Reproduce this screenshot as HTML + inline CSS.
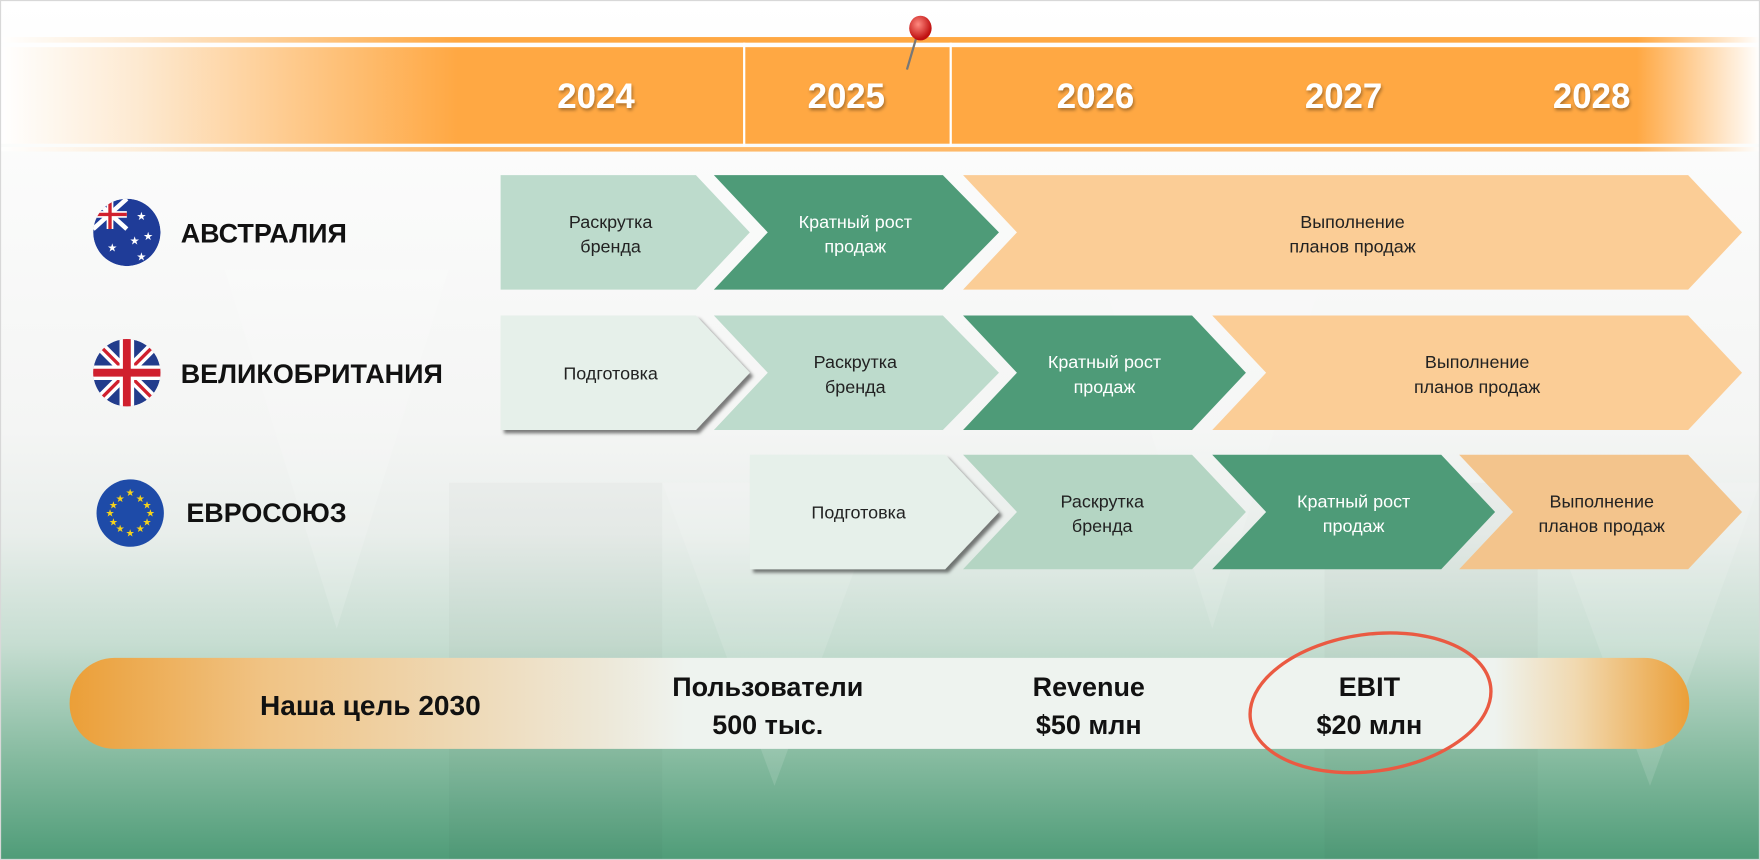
<!DOCTYPE html>
<html><head><meta charset="utf-8"><style>
html,body{margin:0;padding:0;background:#fff;}
svg{display:block;}
text{font-family:"Liberation Sans","DejaVu Sans",sans-serif;}
</style></head><body>
<svg width="1760" height="860" viewBox="0 0 1568 766" preserveAspectRatio="none" xmlns="http://www.w3.org/2000/svg">
<defs>
<linearGradient id="bg" x1="0" y1="0" x2="0" y2="1">
<stop offset="0" stop-color="#ffffff"/>
<stop offset="0.5" stop-color="#f4f5f4"/>
<stop offset="0.62" stop-color="#e9eeeb"/>
<stop offset="0.75" stop-color="#c6ddd1"/>
<stop offset="0.88" stop-color="#86bba0"/>
<stop offset="1" stop-color="#4f9c78"/>
</linearGradient>
<linearGradient id="band" x1="0" y1="0" x2="1" y2="0">
<stop offset="0" stop-color="#ffffff"/>
<stop offset="0.08" stop-color="#fde9d0"/>
<stop offset="0.26" stop-color="#ffa843"/>
<stop offset="0.93" stop-color="#ffa843"/>
<stop offset="1" stop-color="#ffffff"/>
</linearGradient>
<linearGradient id="goal" x1="0" y1="0" x2="1" y2="0">
<stop offset="0" stop-color="#eb9f38"/>
<stop offset="0.12" stop-color="#f0c384"/>
<stop offset="0.33" stop-color="#ede8d8"/>
<stop offset="0.38" stop-color="#eef3ef"/>
<stop offset="0.88" stop-color="#eef3ef"/>
<stop offset="0.93" stop-color="#f1d9b0"/>
<stop offset="1" stop-color="#eb9f38"/>
</linearGradient>
<filter id="ts"><feDropShadow dx="1" dy="2" stdDeviation="1.5" flood-color="#000" flood-opacity="0.35"/></filter>
<filter id="cs"><feDropShadow dx="3" dy="3" stdDeviation="1.5" flood-color="#000" flood-opacity="0.5"/></filter>
<radialGradient id="pin" cx="0.4" cy="0.35" r="0.6"><stop offset="0" stop-color="#ff8a80"/><stop offset="1" stop-color="#c01010"/></radialGradient>
<clipPath id="c1"><circle cx="113" cy="207" r="30"/></clipPath>
<clipPath id="c2"><circle cx="113" cy="332" r="30"/></clipPath>
</defs>
<rect width="1568" height="766" fill="url(#bg)"/>
<!-- facets -->
<polygon points="200,240 400,240 300,560" fill="#ffffff" opacity="0.15"/>
<polygon points="590,430 790,430 690,700" fill="#ffffff" opacity="0.12"/>
<polygon points="980,240 1180,240 1080,560" fill="#ffffff" opacity="0.12"/>
<polygon points="1370,430 1568,430 1470,700" fill="#ffffff" opacity="0.12"/>
<rect x="1180" y="430" width="190" height="336" fill="#000" opacity="0.02"/>
<rect x="400" y="430" width="190" height="336" fill="#000" opacity="0.02"/>
<!-- band -->
<rect x="0" y="33" width="1568" height="5" fill="url(#band)"/>
<rect x="0" y="42" width="1568" height="86" fill="url(#band)"/>
<rect x="0" y="131" width="1568" height="4" fill="url(#band)" opacity="0.8"/>
<rect x="662" y="38" width="2" height="92" fill="#fff"/>
<rect x="846" y="38" width="2" height="92" fill="#fff"/>
<g font-size="31" font-weight="bold" fill="#fff" text-anchor="middle" filter="url(#ts)">
<text x="531" y="96">2024</text><text x="754" y="96">2025</text><text x="976" y="96">2026</text><text x="1197" y="96">2027</text><text x="1418" y="96">2028</text>
</g>
<line x1="818" y1="28" x2="808" y2="62" stroke="#777" stroke-width="2"/>
<ellipse cx="820" cy="25" rx="10" ry="11" fill="url(#pin)"/>
<!-- chevrons -->
<g font-size="16" text-anchor="middle">
<polygon points="446,156 620,156 668,207 620,258 446,258" fill="#bddbcc"/>
<polygon points="636,156 840,156 890,207 840,258 636,258 684,207" fill="#4e9b78"/>
<polygon points="858,156 1504,156 1552,207 1504,258 858,258 906,207" fill="#fbcd96"/>
<text x="544" y="203" fill="#222">Раскрутка</text><text x="544" y="225" fill="#222">бренда</text>
<text x="762" y="203" fill="#fff">Кратный рост</text><text x="762" y="225" fill="#fff">продаж</text>
<text x="1205" y="203" fill="#222">Выполнение</text><text x="1205" y="225" fill="#222">планов продаж</text>
<polygon points="446,281 620,281 668,332 620,383 446,383" fill="#e6f0ea" filter="url(#cs)"/>
<polygon points="636,281 840,281 890,332 840,383 636,383 684,332" fill="#bddbcc"/>
<polygon points="858,281 1062,281 1110,332 1062,383 858,383 906,332" fill="#4e9b78"/>
<polygon points="1080,281 1504,281 1552,332 1504,383 1080,383 1128,332" fill="#fbcd96"/>
<text x="544" y="338" fill="#222">Подготовка</text>
<text x="762" y="328" fill="#222">Раскрутка</text><text x="762" y="350" fill="#222">бренда</text>
<text x="984" y="328" fill="#fff">Кратный рост</text><text x="984" y="350" fill="#fff">продаж</text>
<text x="1316" y="328" fill="#222">Выполнение</text><text x="1316" y="350" fill="#222">планов продаж</text>
<polygon points="668,405 842,405 890,456 842,507 668,507" fill="#e6f0ea" filter="url(#cs)"/>
<polygon points="858,405 1062,405 1110,456 1062,507 858,507 906,456" fill="#b4d5c3"/>
<polygon points="1080,405 1284,405 1332,456 1284,507 1080,507 1128,456" fill="#4e9b78"/>
<polygon points="1300,405 1504,405 1552,456 1504,507 1300,507 1348,456" fill="#f3c48c"/>
<text x="765" y="462" fill="#222">Подготовка</text>
<text x="982" y="452" fill="#222">Раскрутка</text><text x="982" y="474" fill="#222">бренда</text>
<text x="1206" y="452" fill="#fff">Кратный рост</text><text x="1206" y="474" fill="#fff">продаж</text>
<text x="1427" y="452" fill="#222">Выполнение</text><text x="1427" y="474" fill="#222">планов продаж</text>
</g>
<!-- flags -->
<g clip-path="url(#c1)">
<circle cx="113" cy="207" r="30" fill="#1f3c98"/>
<path d="M83,177 L113,204 M113,177 L83,204" stroke="#fff" stroke-width="4"/>
<path d="M98,177 V204 M83,191 H113" stroke="#fff" stroke-width="6"/>
<path d="M98,177 V204 M83,191 H113" stroke="#d0202e" stroke-width="3"/>
</g>
<g fill="#fff" font-size="10" text-anchor="middle"><text x="100" y="224">★</text><text x="126" y="196">★</text><text x="132" y="214">★</text><text x="120" y="218">★</text><text x="126" y="232">★</text></g>
<g clip-path="url(#c2)">
<circle cx="113" cy="332" r="30" fill="#223c8c"/>
<path d="M83,302 L143,362 M143,302 L83,362" stroke="#fff" stroke-width="9"/>
<path d="M83,302 L143,362 M143,302 L83,362" stroke="#d0202e" stroke-width="3"/>
<path d="M113,300 V364 M80,332 H146" stroke="#fff" stroke-width="13"/>
<path d="M113,300 V364 M80,332 H146" stroke="#d0202e" stroke-width="7"/>
</g>
<circle cx="116" cy="457" r="30" fill="#1e4ba8"/>
<g fill="#f5d21c" font-size="9" text-anchor="middle">
<text x="116" y="442">★</text><text x="116" y="478">★</text><text x="98" y="460">★</text><text x="134" y="460">★</text>
<text x="107" y="447">★</text><text x="125" y="447">★</text><text x="107" y="474">★</text><text x="125" y="474">★</text>
<text x="101" y="453">★</text><text x="131" y="453">★</text><text x="101" y="468">★</text><text x="131" y="468">★</text>
</g>
<g font-size="24" font-weight="bold" fill="#111">
<text x="161" y="216">АВСТРАЛИЯ</text>
<text x="161" y="341">ВЕЛИКОБРИТАНИЯ</text>
<text x="166" y="465">ЕВРОСОЮЗ</text>
</g>
<!-- goal -->
<rect x="62" y="586" width="1443" height="81" rx="40" ry="40" fill="url(#goal)"/>
<g font-size="24" font-weight="bold" fill="#111" text-anchor="middle">
<text x="330" y="637" font-size="25">Наша цель 2030</text>
<text x="684" y="620">Пользователи</text><text x="684" y="654">500 тыс.</text>
<text x="970" y="620">Revenue</text><text x="970" y="654">$50 млн</text>
<text x="1220" y="620">EBIT</text><text x="1220" y="654">$20 млн</text>
</g>
<ellipse cx="1221" cy="626" rx="108" ry="61" fill="none" stroke="#ea5a42" stroke-width="3" transform="rotate(-8 1221 626)"/>
<rect x="0.5" y="0.5" width="1567" height="765" fill="none" stroke="#d8d8d8"/>
</svg>
</body></html>
